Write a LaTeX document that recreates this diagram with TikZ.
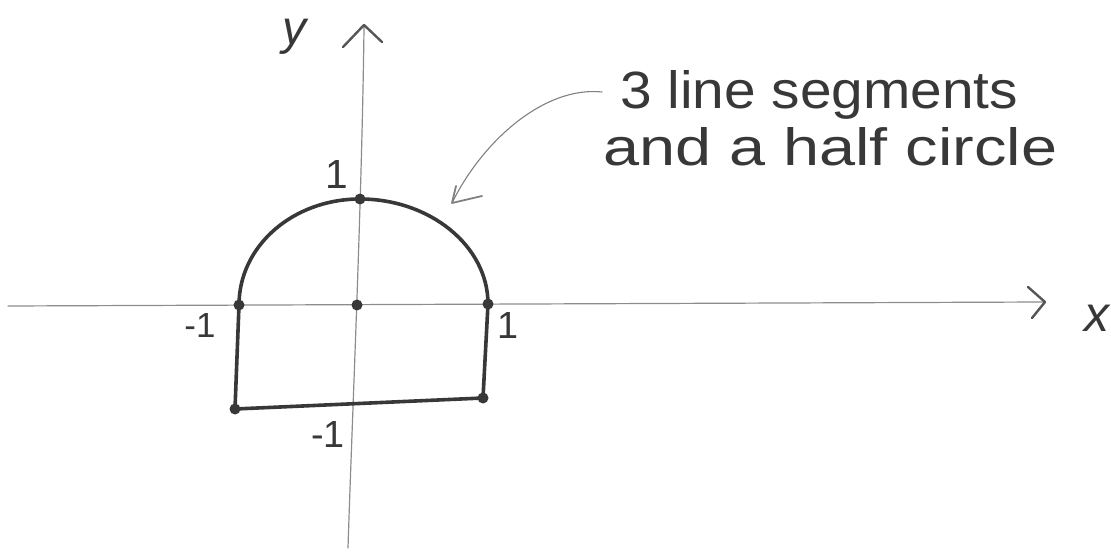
\documentclass[tikz,border=0pt]{standalone}
\usepackage{graphicx}
\usepackage{fontspec}
\setmainfont{Liberation Sans}
\colorlet{ink}{black!78}
\colorlet{axisink}{black!45}
\tikzset{
  axisline/.style={draw=axisink, line width=1.2pt, line cap=round},
  chev/.style={draw=ink!85, line width=2.4pt, line cap=round, line join=round},
  shapeline/.style={draw=ink, line width=3.6pt, line cap=round, line join=round},
  pt/.style={circle, fill=ink, inner sep=0pt, minimum size=11pt},
  lbl/.style={text=ink, inner sep=0pt},
  hand/.style={text=ink, inner sep=0pt, anchor=base west},
  pointer/.style={draw=black!50, line width=1.1pt, line cap=round, line join=round}
}
\begin{document}
\begin{tikzpicture}[x=1pt,y=-1pt]
\useasboundingbox (0,0) rectangle (1111,553);
% axes
\coordinate (xs) at (8,306);
\coordinate (xe) at (1043,302);
\coordinate (ys) at (348,548);
\coordinate (ye) at (364,27);
\draw[axisline] (xs) -- (xe);
\draw[axisline] (ys) .. controls (352,420) and (362,200) .. (ye);
\coordinate (xa1) at (1028,287);
\coordinate (xa2) at (1045,302);
\coordinate (xa3) at (1032,318);
\draw[chev] (xa1) -- (xa2) -- (xa3);
\coordinate (ya1) at (343,47);
\coordinate (ya2) at (364,25);
\coordinate (ya3) at (382,42);
\draw[chev] (ya1) -- (ya2) -- (ya3);
% axis labels
\node[lbl, anchor=base, text height=25pt, text depth=10pt] (ylab) at (294,45)
  {\fontsize{48}{50}\selectfont\itshape y};
\node[lbl, anchor=base, text height=24pt, text depth=0pt] (xlab) at (1097,331)
  {\fontsize{50}{52}\selectfont\itshape x};
% tick labels
\node[lbl] (t1) at (337,174) {\resizebox{!}{28pt}{1}};
\node[lbl] (tm1l) at (200,325) {\resizebox{!}{24pt}{-1}};
\node[lbl] (t1r) at (508,325) {\resizebox{!}{26pt}{1}};
\node[lbl] (tm1b) at (328,434) {\resizebox{!}{26pt}{-1}};
% shape points
\coordinate (A) at (239,305);
\coordinate (B) at (488,304);
\coordinate (C) at (360,199);
\coordinate (O) at (357,305);
\coordinate (D) at (235,409);
\coordinate (E) at (483,398);
\draw[shapeline] (A) .. controls (239,246) and (293,199) .. (C)
  .. controls (430,199) and (488,246) .. (B) -- (E) -- (D) -- cycle;
\foreach \p in {A,B,C,O,D,E} \node[pt] at (\p) {};
% annotation
\node[hand] (t1line) at (620,109) {\resizebox{398pt}{38pt}{3 line segments}};
\node[hand] (t2line) at (603,166) {\resizebox{454pt}{38pt}{and a half circle}};
\coordinate (ps) at (602,92);
\coordinate (pe) at (452,203);
\coordinate (pb1) at (456,186);
\coordinate (pb2) at (482,196);
\draw[pointer] (ps) .. controls (545,86) and (483,140) .. (pe);
\draw[pointer, line width=1.8pt] (pb1) -- (pe) -- (pb2);
\end{tikzpicture}
\end{document}
